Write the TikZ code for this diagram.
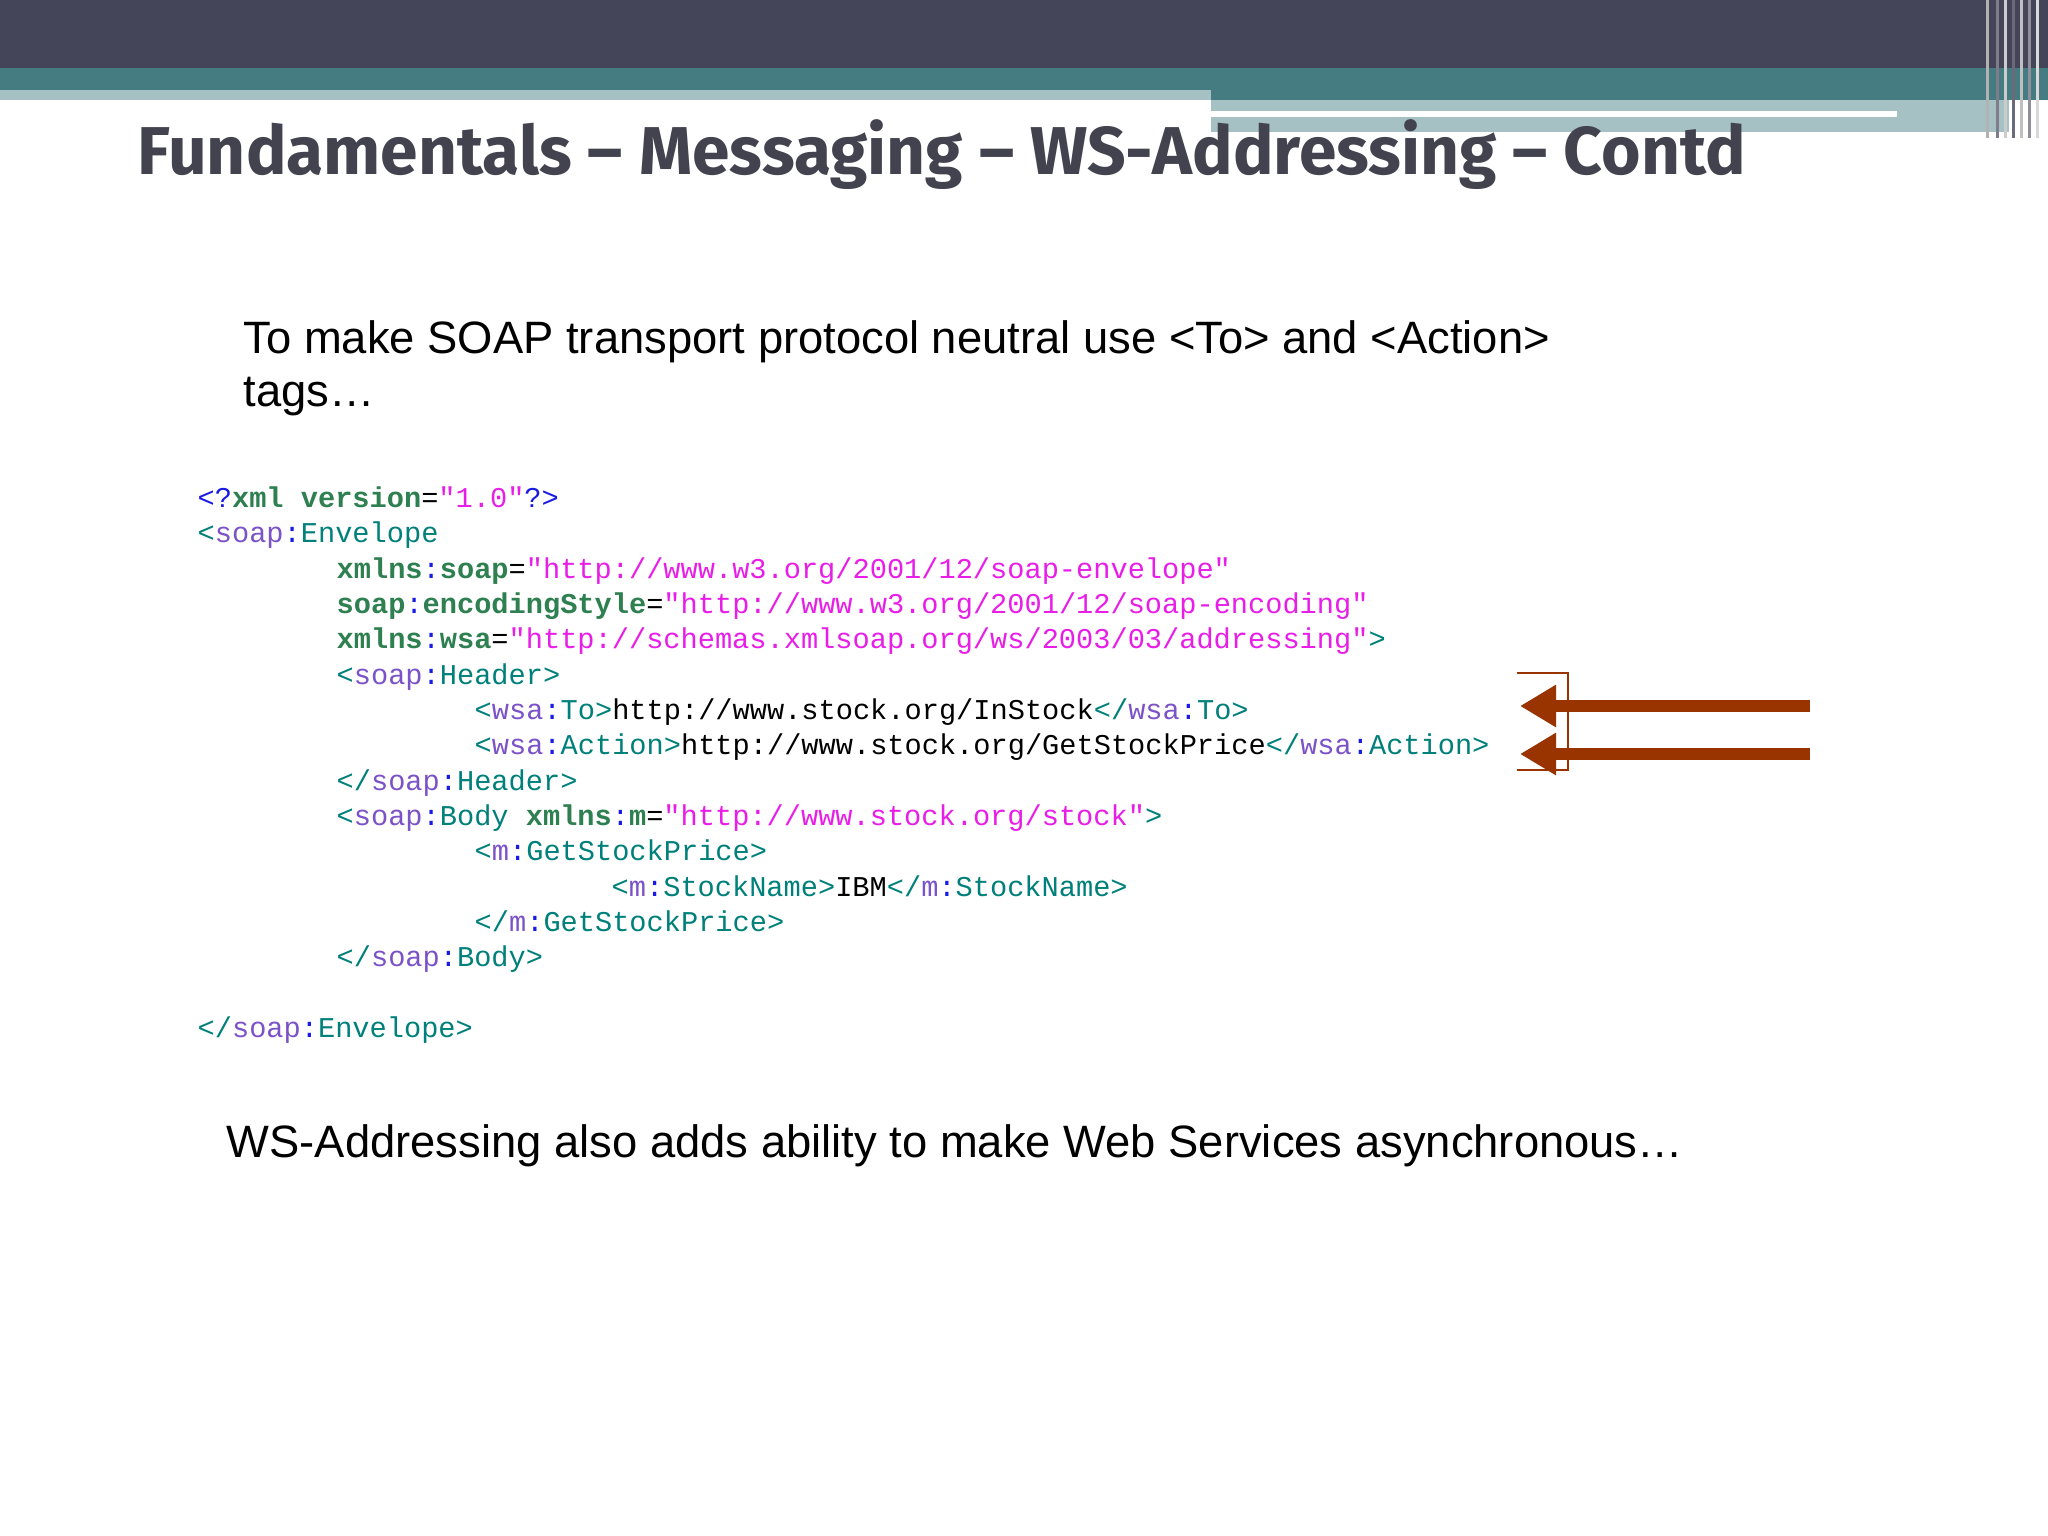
\documentclass[tikz,border=0pt]{standalone}
\usepackage{fontspec}
\setmainfont{Liberation Sans}
\setmonofont{Liberation Mono}
\newfontfamily\titlefont{Fira Sans}
\usetikzlibrary{arrows.meta}
\definecolor{dark}{HTML}{45455A}
\definecolor{teal1}{HTML}{457C82}
\definecolor{light}{HTML}{A5C1C4}
\definecolor{ttl}{HTML}{43434F}
\definecolor{cgreen}{HTML}{2E8050}
\definecolor{cteal}{HTML}{00807A}
\definecolor{cpurp}{HTML}{7B52C7}
\definecolor{cmag}{HTML}{E81EE8}
\definecolor{cblue}{HTML}{1A1AE6}
\definecolor{arr}{HTML}{993300}
\newcommand{\Pf}[1]{\textcolor{cpurp}{#1}}
\newcommand{\Tg}[1]{\textcolor{cteal}{#1}}
\newcommand{\At}[1]{\textcolor{cgreen}{\bfseries #1}}
\newcommand{\Vl}[1]{\textcolor{cmag}{#1}}
\newcommand{\Cl}{\textcolor{cblue}{:}}
\newcommand{\Eq}{=}
\tikzset{code/.style={anchor=base west,inner sep=0pt,font=\ttfamily\fontsize{8.15pt}{9pt}\selectfont},
 body/.style={anchor=base west,inner sep=0pt,font=\fontsize{12.9pt}{16pt}\selectfont},
 bigarrow/.style={draw=arr,line width=0.12cm,-{Triangle[length=0.36cm,width=0.4cm,fill=arr]}}}
\begin{document}
\begin{tikzpicture}[x=0.01cm,y=-0.01cm]
\useasboundingbox (0,0) rectangle (2048,1536);
\fill[white] (0,0) rectangle (2048,1536);
% header
\fill[dark] (0,0) rectangle (2048,68);
\fill[teal1] (0,68) rectangle (2048,90);
\fill[teal1] (1211,90) rectangle (2048,100);
\fill[light] (0,90) rectangle (1211,100);
\fill[light] (1211,100) rectangle (2009,132);
\fill[white] (1211,111) rectangle (1897,117);
\foreach \x/\c in {1986/gray!60,1996/dark!70,2004/gray!40,2012/dark!80,2020/gray!50,2028/dark!60,2036/gray!30}
  \fill[\c] (\x,0) rectangle ++(3,138);
% title
\node[anchor=base west,inner sep=0pt,text=ttl] (title) at (137,174)
  {\resizebox{16.07cm}{!}{\titlefont\bfseries Fundamentals – Messaging – WS-Addressing – Contd}};
% text
\node[body] (t1) at (243,353) {To make SOAP transport protocol neutral use <To> and <Action>};
\node[body] (t2) at (243,406) {tags…};
\node[body] (t3) at (226,1157) {WS-Addressing also adds ability to make Web Services asynchronous…};
% code
\def\la{197}\def\lb{336}\def\lc{474}\def\ld{611}
\node[code] (c1) at (\la,507) {\textcolor{cblue}{<?}\At{xml version}\Eq\Vl{"1.0"}\textcolor{cblue}{?>}};
\node[code] (c2) at (\la,542) {\Tg{<}\Pf{soap}\Cl\Tg{Envelope}};
\node[code] (c3) at (\lb,578) {\At{xmlns}\Cl\At{soap}\Eq\Vl{"http://www.w3.org/2001/12/soap-envelope"}};
\node[code] (c4) at (\lb,613) {\At{soap}\Cl\At{encodingStyle}\Eq\Vl{"http://www.w3.org/2001/12/soap-encoding"}};
\node[code] (c5) at (\lb,648) {\At{xmlns}\Cl\At{wsa}\Eq\Vl{"http://schemas.xmlsoap.org/ws/2003/03/addressing"}\Tg{>}};
\node[code] (c6) at (\lb,684) {\Tg{<}\Pf{soap}\Cl\Tg{Header>}};
\node[code] (c7) at (\lc,719) {\Tg{<}\Pf{wsa}\Cl\Tg{To>}http://www.stock.org/InStock\Tg{</}\Pf{wsa}\Cl\Tg{To>}};
\node[code] (c8) at (\lc,754) {\Tg{<}\Pf{wsa}\Cl\Tg{Action>}http://www.stock.org/GetStockPrice\Tg{</}\Pf{wsa}\Cl\Tg{Action>}};
\node[code] (c9) at (\lb,790) {\Tg{</}\Pf{soap}\Cl\Tg{Header>}};
\node[code] (c10) at (\lb,825) {\Tg{<}\Pf{soap}\Cl\Tg{Body} \At{xmlns}\Cl\At{m}\Eq\Vl{"http://www.stock.org/stock"}\Tg{>}};
\node[code] (c11) at (\lc,860) {\Tg{<}\Pf{m}\Cl\Tg{GetStockPrice>}};
\node[code] (c12) at (\ld,896) {\Tg{<}\Pf{m}\Cl\Tg{StockName>}IBM\Tg{</}\Pf{m}\Cl\Tg{StockName>}};
\node[code] (c13) at (\lc,931) {\Tg{</}\Pf{m}\Cl\Tg{GetStockPrice>}};
\node[code] (c14) at (\lb,966) {\Tg{</}\Pf{soap}\Cl\Tg{Body>}};
\node[code] (c16) at (\la,1037) {\Tg{</}\Pf{soap}\Cl\Tg{Envelope>}};
% bracket and arrows
\draw[draw=arr,line width=0.02cm] (1517,673) -- (1568,673) -- (1568,770) -- (1517,770);
\coordinate (s1) at (1810,706); \coordinate (e1) at (1520,706);
\coordinate (s2) at (1810,754); \coordinate (e2) at (1520,754);
\draw[bigarrow] (s1) -- (e1);
\draw[bigarrow] (s2) -- (e2);
\end{tikzpicture}
\end{document}
